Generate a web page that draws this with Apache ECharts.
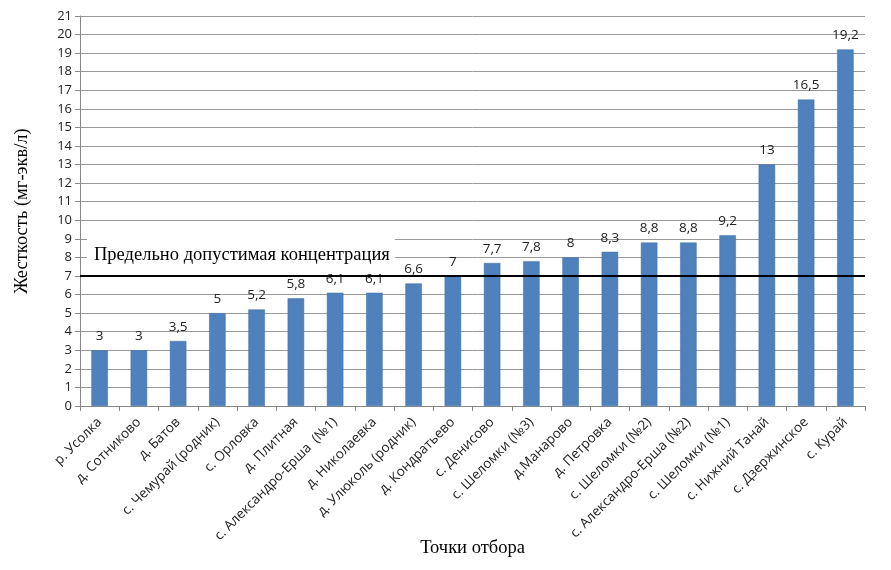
<!DOCTYPE html>
<html>
<head>
<meta charset="utf-8">
<script src="https://cdn.jsdelivr.net/npm/echarts@6/dist/echarts.min.js"></script>
<style>html,body{margin:0;padding:0;background:#fff}#c{width:891px;height:570px}</style>
</head>
<body>
<div id="c"></div>
<script>
const categories = ['р. Усолка','д. Сотниково','д. Батов','с. Чемурай (родник)','с. Орловка','д. Плитная','с. Александро-Ерша  (№1)','д. Николаевка','д. Улюколь (родник)','д. Кондратьево','с. Денисово','с. Шеломки (№3)','д.Манарово','д. Петровка','с. Шеломки (№2)','с. Александро-Ерша (№2)','с. Шеломки (№1)','с. Нижний Танай','с. Дзержинское','с. Курай'];
const hardness = [3,3,3.5,5,5.2,5.8,6.1,6.1,6.6,7,7.7,7.8,8,8.3,8.8,8.8,9.2,13,16.5,19.2];
const limitValue = 7;
const limitLabel = 'Предельно допустимая концентрация';
const yTitle = 'Жесткость (мг-экв/л)';
const xTitle = 'Точки отбора';

const chart = echarts.init(document.getElementById('c'));
const sans = 'Open Sans';
const serif = 'Liberation Serif';
chart.setOption({
  animation: false,
  grid: {left: 80, right: 26, top: 16, bottom: 164, outerBoundsMode: 'none', containLabel: false},
  xAxis: {
    type: 'category',
    data: categories,
    name: xTitle,
    nameLocation: 'middle',
    nameGap: 133,
    nameMoveOverlap: false,
    nameTextStyle: {fontFamily: serif, fontSize: 18.5, color: '#000'},
    axisLine: {lineStyle: {color: '#888', width: 1}},
    axisTick: {show: true, length: 5, lineStyle: {color: '#888'}},
    axisLabel: {rotate: 45, fontFamily: sans, fontSize: 13.5, color: '#222', margin: 14, interval: 0}
  },
  yAxis: {
    type: 'value',
    min: 0, max: 21, interval: 1,
    name: yTitle,
    nameLocation: 'middle',
    nameGap: 48,
    nameMoveOverlap: false,
    nameTextStyle: {fontFamily: serif, fontSize: 18.5, color: '#000'},
    axisLine: {show: true, lineStyle: {color: '#888'}},
    axisTick: {show: true, length: 5, lineStyle: {color: '#888'}},
    axisLabel: {fontFamily: sans, fontSize: 13, color: '#222', margin: 8},
    splitLine: {lineStyle: {color: '#999', width: 1}}
  },
  series: [{
    type: 'bar',
    data: hardness,
    barWidth: '42%',
    itemStyle: {color: '#4F81BD', borderColor: '#3d6ea8', borderWidth: 0.5},
    label: {
      show: true, position: 'top', distance: 7,
      fontFamily: sans, fontSize: 13.5, color: '#222',
      formatter: p => String(p.value).replace('.', ',')
    },
    markLine: {
      silent: true,
      symbol: 'none',
      lineStyle: {color: '#000', width: 2, type: 'solid'},
      data: [{yAxis: limitValue}],
      label: {
        show: true,
        position: 'insideStartTop',
        formatter: limitLabel,
        fontFamily: serif, fontSize: 18.5, color: '#000',
        backgroundColor: '#fff',
        padding: [8, 5, 4, 7],
        distance: [7, 7]
      }
    }
  }]
});
</script>
</body>
</html>
